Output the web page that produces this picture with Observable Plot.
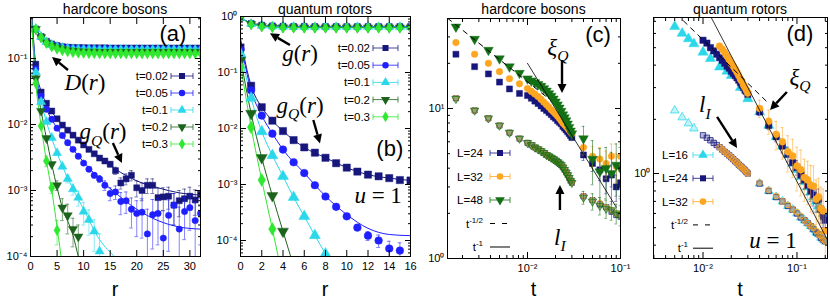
<!DOCTYPE html>
<html><head><meta charset="utf-8">
<script src="https://cdn.jsdelivr.net/npm/d3@7"></script>
<script src="https://cdn.jsdelivr.net/npm/@observablehq/plot@0.6"></script>
<style>
html,body{margin:0;padding:0;background:#fff;}
#wrap{position:relative;width:830px;height:301px;overflow:hidden;background:#fff;}
#wrap > svg{position:absolute;top:0;overflow:visible;}
</style></head><body><div id="wrap"></div>
<script>
// ================= DATA =================
// ---- (a) hardcore bosons: D(r) (upper band) and g_Q(r) (lower), vs r ----
const rA = [1,2,3,4,5,6,7,8,9,10,11,12,13,14,15,16,17,18,19,20,21,22,23,24,25,26,27,28,29,30,31,32];
const DA_t002 = [0.280,0.215,0.182,0.166,0.157,0.151,0.148,0.147,0.146,0.146,0.145,0.145,0.145,0.145,0.144,0.144,0.144,0.144,0.144,0.144,0.144,0.144,0.144,0.144,0.144,0.144,0.144,0.144,0.144,0.144,0.144,0.144];
const DA_t005 = [0.280,0.214,0.180,0.164,0.155,0.149,0.146,0.144,0.143,0.142,0.142,0.141,0.141,0.141,0.141,0.141,0.140,0.140,0.140,0.140,0.140,0.140,0.140,0.140,0.140,0.140,0.140,0.140,0.140,0.140,0.140,0.140];
const DA_t01  = [0.280,0.213,0.178,0.161,0.151,0.145,0.141,0.139,0.138,0.137,0.137,0.136,0.136,0.136,0.136,0.136,0.136,0.136,0.136,0.136,0.136,0.136,0.136,0.136,0.136,0.136,0.136,0.136,0.136,0.136,0.136,0.136];
const DA_t02  = [0.279,0.210,0.174,0.156,0.145,0.138,0.133,0.130,0.128,0.127,0.126,0.126,0.125,0.125,0.125,0.125,0.125,0.125,0.125,0.125,0.125,0.125,0.125,0.125,0.125,0.125,0.125,0.125,0.125,0.125,0.125,0.125];
const DA_t03  = [0.279,0.208,0.171,0.152,0.140,0.133,0.128,0.124,0.122,0.121,0.120,0.120,0.119,0.119,0.119,0.119,0.119,0.119,0.119,0.119,0.119,0.119,0.119,0.119,0.119,0.119,0.119,0.119,0.119,0.119,0.119,0.119];

const gQA_t002 = [0.082,0.031,0.021,0.016,0.0122,0.0098,0.0082,0.0069,0.0058,0.0049,0.0042,0.0036,0.0031,0.0028,0.0025,0.0020,0.0013,0.0015,0.0017,0.0011,0.0010,0.0012,0.0012,0.00078,0.00080,0.00082,0.00060,0.00070,0.00075,0.00082,0.00072,0.00088];
const errA_t002 = [0,0,0,0,0,0,0,0,0,0.00015,0.00015,0.00018,0.0002,0.0002,0.00022,0.00025,0.00025,0.00028,0.0003,0.0003,0.0003,0.0003,0.0003,0.0003,0.0003,0.0003,0.0003,0.0003,0.0003,0.0003,0.0003,0.0003];
const gQA_t005 = [0.070,0.027,0.017,0.012,0.0088,0.0068,0.0053,0.0042,0.0033,0.0026,0.0021,0.0017,0.0015,0.0012,0.00090,0.00095,0.00068,0.00070,0.00052,0.00045,0.00047,0.00022,0.00043,0.00045,0.00019,0.00042,0.00060,0.00026,0.00048,0.00055,0.00035,0.00045];
const errA_t005 = [0,0,0,0,0,0,0,0,0,0.0001,0.00012,0.00015,0.00018,0.0002,0.0002,0.00022,0.00025,0.00025,0.00025,0.00025,0.00028,0.0003,0.0003,0.0003,0.0003,0.0003,0.0003,0.0003,0.0003,0.0003,0.0003,0.0003];
const gQA_t01 = [0.062,0.022,0.011,0.0063,0.0037,0.0023,0.0015,0.00105,0.00078,0.00048,0.00036,0.00024,0.00012];
const errA_t01 = [0,0,0,0,0,0.0001,0.0002,0.0002,0.0002,0.00018,0.00015,0.00012,0.0001];
const gQA_t02 = [0.050,0.016,0.0062,0.0025,0.0012,0.00055,0.00042,0.00026,0.00020];
const errA_t02 = [0,0,0,0,0.0002,0.0002,0.0002,0.00012,0.0001];
const gQA_t03 = [0.042,0.0095,0.0028,0.0011,0.00025];
const errA_t03 = [0,0,0.0005,0.0002,0.0001];

const fitA_t002_r = [0.3,1,2,3,5,8,10,13,16,20,24,28,32];
const fitA_t002   = [0.40,0.075,0.032,0.021,0.0122,0.0069,0.0049,0.0031,0.0021,0.0014,0.0011,0.00092,0.00085];
const fitA_t005_r = [0.3,1,2,3,5,8,10,13,16,20,24,28,32];
const fitA_t005   = [0.35,0.066,0.027,0.017,0.0088,0.0042,0.0027,0.0015,0.00092,0.00052,0.00035,0.00028,0.00026];
const fitA_t01_r  = [0.2,1,2,3,5,8,10,13,16,18];
const fitA_t01    = [0.40,0.062,0.022,0.011,0.0037,0.00105,0.00052,0.00018,0.000095,0.00006];
const fitA_t02_r  = [0.1,1,2,3,4,6,8,9,10];
const fitA_t02    = [0.50,0.050,0.016,0.0062,0.0025,0.00055,0.00021,0.0001,0.00005];
const fitA_t03_r  = [0.1,1,2,3,4,5,6];
const fitA_t03    = [0.50,0.042,0.0095,0.0028,0.0010,0.00028,0.00007];

// ---- (b) quantum rotors: g(r) (upper) and g_Q(r) (lower), vs r ----
const rB = [0,1,2,3,4,5,6,7,8,9,10,11,12,13,14,15,16];
const gB_t002 = [0.95,0.75,0.70,0.68,0.67,0.665,0.665,0.66,0.66,0.66,0.66,0.66,0.66,0.66,0.66,0.66,0.66];
const gB_t005 = [0.95,0.75,0.70,0.68,0.67,0.665,0.665,0.66,0.66,0.66,0.66,0.66,0.66,0.66,0.66,0.66,0.66];
const gB_t01  = [0.95,0.74,0.69,0.67,0.66,0.655,0.65,0.65,0.65,0.65,0.65,0.65,0.65,0.65,0.65,0.65,0.65];
const gB_t02  = [0.95,0.73,0.67,0.65,0.64,0.64,0.635,0.635,0.635,0.635,0.635,0.635,0.635,0.635,0.635,0.635,0.635];
const gB_t03  = [0.95,0.72,0.66,0.64,0.63,0.63,0.625,0.625,0.625,0.625,0.625,0.625,0.625,0.625,0.625,0.625,0.625];
const gQB_t002 = [0.28,0.058,0.024,0.0138,0.0090,0.0062,0.0046,0.0037,0.0030,0.0024,0.0020,0.0017,0.0015,0.0014,0.0013,0.0012,0.00118];
const gQB_t005 = [0.26,0.048,0.017,0.0081,0.0042,0.0025,0.0016,0.00097,0.00061,0.00040,0.00027,0.00017,0.000122,0.00010,0.000072,0.000066];
const errB_t005 = [0,0,0,0,0,0,0,0,0,0,0.00001,0.00002,0.000022,0.000025,0.000025,0.000025];
const gQB_t01 = [0.216,0.035,0.0088,0.0033,0.0014,0.00059,0.00027,0.000123,0.000058];
const errB_t01 = [0,0,0,0,0,0,0,0.00001,0.000008];
const gQB_t02 = [0.164,0.0185,0.0030,0.00063,0.000146];
const gQB_t03 = [0.124,0.0105,0.0012,0.00016];
const fitB_t002_r = [0,1,2,3,4,6,8,10,12,14,16];
const fitB_t002   = [0.40,0.058,0.024,0.0138,0.0090,0.0046,0.0030,0.0020,0.0015,0.0013,0.00118];
const fitB_t005_r = [0,1,2,3,4,6,8,10,12,14,16];
const fitB_t005   = [0.35,0.048,0.017,0.0081,0.0042,0.0016,0.00062,0.00029,0.000165,0.000128,0.000122];
const fitB_t01_r  = [0,1,2,3,4,5,6,7,8,9];
const fitB_t01    = [0.25,0.035,0.0088,0.0033,0.0014,0.00059,0.00027,0.000123,0.000058,0.000027];
const fitB_t02_r  = [0,1,2,3,4,5];
const fitB_t02    = [0.18,0.0185,0.0030,0.00063,0.000146,0.000035];
const fitB_t03_r  = [0,1,2,3,4];
const fitB_t03    = [0.14,0.0105,0.0012,0.00016,0.00002];

// ---- (c) hardcore bosons: xi_Q (upper) and l_I (lower) vs t ----
const tC = [0.0017,0.0027,0.0038,0.005,0.0064,0.0082,
  0.010,0.011,0.012,0.013,0.014,0.015,0.016,0.017,0.018,0.019,0.020,0.021,0.022,0.023,0.024,0.025,0.026,0.027,0.028,0.029,0.030,
  0.04,0.05,0.06,0.07,0.08,0.09,0.10];
const xiC_L24 = [23,19,17,15,13.5,12.6, 12.2,11.7,11.2,10.8,10.4,10.0,9.7,9.4,9.1,8.8,8.6,8.3,8.1,7.9,7.6,7.4,7.2,7.0,6.8,6.6,6.4, 4.9,4.3,3.9,3.4,3.6,3.0,3.2];
const errC_L24 = [0,0,0,0,0,0, 0,0,0,0,0,0,0,0,0,0,0.2,0.2,0.2,0.2,0.2,0.2,0.2,0.2,0.2,0.2,0.2, 0.4,0.5,0.6,0.7,0.6,0.6,0.6];
const xiC_L32 = [27.5,23,20,17.6,15.8,14.6, 13.6,13.0,12.5,12.0,11.5,11.0,10.6,10.2,9.8,9.5,9.2,8.9,8.6,8.3,8.0,7.8,7.6,7.4,7.2,7.0,6.8, 5.5,4.8,4.6,4.3,4.8,4.1,4.8];
const errC_L32 = [0,0,0,0,0,0, 0,0,0,0,0,0,0,0,0,0,0.3,0.3,0.3,0.3,0.3,0.3,0.3,0.3,0.3,0.3,0.3, 0.6,0.8,0.9,0.9,1.0,0.9,1.0];
const xiC_L48 = [35,29,24.5,21.5,19,17.2, 15.8,15.3,14.9,14.5,14.1,13.6,13.1,12.6,12.1,11.6,11.1,10.6,10.1,9.6,9.1,8.7,8.3,7.9,7.5,7.1,6.8, 6.3,4.6,3.8,4.0,3.7,4.2,4.0];
const errC_L48 = [0,0,0,0,0,0, 0,0,0,0,0,0.3,0.3,0.4,0.4,0.5,0.5,0.5,0.6,0.6,0.6,0.6,0.6,0.6,0.6,0.6,0.6, 1.3,1.5,1.6,1.5,1.4,1.6,1.5];
const lIC_L24 = [11.7,9.7,8.6,7.7,6.9,6.3, 5.9,5.7,5.5,5.35,5.2,5.05,4.9,4.8,4.7,4.6,4.5,4.4,4.3,4.2,4.05,3.9,3.75,3.6,3.45,3.3,3.2, 2.6,2.45,2.3,2.2,2.05,1.95,1.9];
const lIC_L32 = [11.7,9.7,8.6,7.7,6.9,6.3, 5.9,5.7,5.5,5.35,5.2,5.05,4.9,4.8,4.7,4.6,4.5,4.4,4.3,4.2,4.05,3.9,3.75,3.6,3.45,3.3,3.2, 2.6,2.45,2.35,2.2,2.1,2.0,1.95];
const lIC_L48 = [11.6,9.7,8.6,7.7,6.9,6.3, 5.9,5.7,5.5,5.35,5.2,5.05,4.9,4.8,4.7,4.6,4.5,4.4,4.3,4.2,4.05,3.9,3.75,3.6,3.45,3.3,3.2, 2.55,2.4,2.25,2.15,2.1,2.0,1.95];
const errlC_L48 = [0,0,0,0,0,0, 0,0,0,0,0,0,0,0,0,0,0,0,0,0,0,0,0,0,0,0,0, 0.25,0.3,0.3,0.3,0.3,0.3,0.3];
const powHalfC_t = [0.00138,0.017], powHalfC = [40,11.6];
const powOneC_t  = [0.010,0.09],   powOneC  = [20,2.2];

// ---- (d) quantum rotors: xi_Q (upper) and l_I (lower) vs t ----
const tD_L16 = [0.005,0.006,0.007,0.008,0.010,0.012,0.015,0.018,0.020,0.025,0.030,
  0.04,0.05,0.06,0.07,0.08,0.09,0.10,0.11,0.12,0.13,0.14,0.15,0.16,0.17,0.18,0.19,0.20];
const xiD_L16 = [6.55,6.0,5.6,5.25,4.72,4.35,3.9,3.7,3.5,3.0,2.6,
  2.2,1.85,1.6,1.42,1.27,1.14,1.05,0.96,0.90,0.84,0.79,0.74,0.70,0.66,0.63,0.60,0.57];
const tD_L24 = [0.010,0.011,0.012,0.013,0.014,0.015,0.016,0.017,0.018,0.019,0.020,0.021,0.022,0.023,0.024,0.025,0.026,0.027,0.028,0.029,0.030,
  0.04,0.05,0.06,0.07,0.08,0.09,0.10,0.11,0.12,0.13,0.14,0.15,0.16,0.17,0.18,0.19,0.20];
const xiD_L24 = [5.5,5.3,5.0,4.8,4.6,4.4,4.25,4.1,3.95,3.85,3.7,3.6,3.5,3.4,3.3,3.2,3.1,3.0,2.9,2.85,2.75,
  2.2,1.85,1.6,1.42,1.28,1.15,1.08,0.98,0.92,0.86,0.80,0.76,0.71,0.72,0.63,0.58,0.55];
const errD_L24 = [0,0,0,0,0,0,0,0,0,0,0,0,0,0,0,0,0,0,0,0,0,
  0.1,0.1,0.1,0.12,0.12,0.12,0.1,0.1,0.1,0.1,0.1,0.1,0.1,0.1,0.1,0.08,0.08];
const tD_L32 = [0.015,0.016,0.017,0.018,0.019,0.020,0.021,0.022,0.023,0.024,0.025,0.026,0.027,0.028,0.029,0.030,
  0.04,0.05,0.06,0.07,0.08,0.09,0.10,0.11,0.12,0.13,0.14,0.15,0.16,0.17,0.18,0.19,0.20];
const xiD_L32 = [5.1,4.9,4.7,4.5,4.3,4.1,3.95,3.8,3.65,3.5,3.35,3.25,3.1,3.0,2.9,2.8,
  2.3,1.95,1.65,1.5,1.32,1.25,1.1,1.05,0.95,0.92,0.86,0.85,0.72,0.74,0.64,0.62,0.48];
const errD_L32 = [0.15,0.15,0.15,0.15,0.15,0.15,0.15,0.15,0.15,0.15,0.15,0.15,0.15,0.15,0.15,0.15,
  0.25,0.3,0.3,0.3,0.3,0.3,0.3,0.3,0.25,0.25,0.25,0.25,0.2,0.2,0.2,0.2,0.15];
const tDl_L16 = [0.005,0.006,0.007,0.008,
  0.04,0.05,0.06,0.07,0.08,0.09,0.10,0.11,0.12,0.13,0.14,0.15,0.16,0.17,0.18,0.19,0.20];
const lID_L16 = [2.24,2.05,1.9,1.78,
  0.88,0.80,0.74,0.70,0.66,0.63,0.60,0.57,0.55,0.53,0.51,0.49,0.47,0.46,0.44,0.43,0.42];
const lID_L24 = [1.63,1.58,1.53,1.48,1.44,1.40,1.36,1.32,1.29,1.26,1.23,1.20,1.17,1.15,1.12,1.10,1.08,1.06,1.04,1.02,1.00,
  0.88,0.80,0.74,0.70,0.66,0.63,0.60,0.57,0.55,0.53,0.51,0.49,0.47,0.46,0.44,0.43,0.42];
const lID_L32 = [1.40,1.36,1.32,1.29,1.26,1.23,1.20,1.17,1.15,1.12,1.10,1.08,1.06,1.04,1.02,1.00,
  0.89,0.81,0.75,0.70,0.67,0.63,0.61,0.58,0.55,0.53,0.51,0.50,0.48,0.46,0.45,0.43,0.42];
const powHalfD_t = [0.0052,0.05], powHalfD = [7.7,2.45];
const powOneD_t  = [0.012,0.21],  powOneD  = [7.5,0.43];

// ---- tick labels / legend labels ----
const xTicksA = [0,5,10,15,20,25,30];
const yMajorA = [1e-4,1e-3,1e-2,1e-1];
const xTicksB = [0,2,4,6,8,10,12,14,16];
const yMajorB = [1e-4,1e-3,1e-2,1e-1,1];
const xMajorC = [0.01,0.1], yMajorC = [1,10];
const xMajorD = [0.01,0.1], yMajorD = [1];
const legendT = ["t=0.02","t=0.05","t=0.1","t=0.2","t=0.3"];
const legendC = ["L=24","L=32","L=48"];
const legendD = ["L=16","L=24","L=32"];
const titles = ["hardcore bosons","quantum rotors","hardcore bosons","quantum rotors"];

// ================= STYLE / LAYOUT =================
const FONT = '"Liberation Sans", Arial, Helvetica, sans-serif';
const SERIF = '"Liberation Serif", "DejaVu Serif", "Times New Roman", serif';
const COL = {navy:"#16167c", blue:"#1f1fff", cyan:"#2ad8ea", dgreen:"#1c641c", lgreen:"#30e830", orange:"#ffa620", green:"#147014"};
const H = 301;
const P = {
  a:{left:0,   w:207, ml:30, mr:7, mt:17, mb:45, xType:"linear", xDomain:[0,32],  yDomain:[1e-4,0.418], k:1},
  b:{left:207, w:207, ml:33, mr:4, mt:16, mb:45, xType:"linear", xDomain:[0,16],  yDomain:[5.18e-5,1], k:1.2},
  c:{left:414, w:208, ml:33, mr:2, mt:18, mb:43, xType:"log",    xDomain:[0.00138,0.1], yDomain:[1,39.8], k:1},
  d:{left:622, w:208, ml:31, mr:3, mt:17, mb:43, xType:"log",    xDomain:[0.002973,0.2113], yDomain:[0.3372,7.356], k:1.05}
};
const sup = {"-":"⁻","0":"⁰","1":"¹","2":"²","3":"³","4":"⁴","5":"⁵","6":"⁶","7":"⁷","8":"⁸","9":"⁹"};
const fmtPow = v => "10" + String(Math.round(Math.log10(v))).split("").map(c => sup[c]).join("");
function logMinor(dom){const o=[];for(let e=Math.floor(Math.log10(dom[0]));e<=Math.ceil(Math.log10(dom[1]));e++)for(let k=2;k<=9;k++){const v=k*Math.pow(10,e);if(v>=dom[0]&&v<=dom[1])o.push(v);}return o;}

function pts(xs, ys, es){return ys.map((y,i)=>({x:xs[i], y, e: es ? es[i] : 0})).filter(d=>d.y!=null);}

function dotMarks(d, s, o={}) {
  const m = [];
  const de = d.filter(p => p.e > 0);
  const lo = p => (p.y - p.e > 0 ? p.y - p.e : 1e-12);
  const c1 = p => o.logx ? p.x / 1.035 : p.x - o.cap;
  const c2 = p => o.logx ? p.x * 1.035 : p.x + o.cap;
  const ec = s.color;
  if (de.length) {
    m.push(Plot.ruleX(de, {x:"x", y1:lo, y2:p=>p.y+p.e, stroke:ec, strokeOpacity:0.55, strokeWidth:1, clip:true}));
    m.push(Plot.ruleY(de, {y:p=>p.y+p.e, x1:c1, x2:c2, stroke:ec, strokeOpacity:0.55, strokeWidth:1, clip:true}));
    m.push(Plot.ruleY(de.filter(p=>p.y-p.e>0), {y:lo, x1:c1, x2:c2, stroke:ec, strokeOpacity:0.55, strokeWidth:1, clip:true}));
  }
  const rr = s.r * (o.k || 1) * (o.open ? 0.85 : 1);
  m.push(Plot.dot(d, {x:"x", y:"y", symbol:s.symbol, rotate:s.rotate||0, r:rr,
    fill:s.color, fillOpacity:o.open ? 0.3 : 1, stroke:s.color, strokeOpacity:o.open ? 0.75 : 0.45, strokeWidth:1, clip:true}));
  return m;
}
const lineMark = (xs, ys, color, extra={}) => Plot.line(pts(xs, ys), {x:"x", y:"y", stroke:color, strokeWidth:1, curve:"monotone-x", clip:true, ...extra});

function axisMarks(p, xMajor, xMinor, yMajor, xFmt) {
  const yMinor = logMinor(p.yDomain);
  const m = [
    Plot.frame({stroke:"black", strokeWidth:1}),
    Plot.axisX(xMajor, {anchor:"bottom", tickSize:-6, tickPadding:12, tickFormat:xFmt, label:null, fontSize:11}),
    Plot.axisX(xMajor, {anchor:"top", tickSize:-6, fill:"none", label:null}),
    Plot.axisY(yMajor, {anchor:"left", tickSize:-6, tickPadding:9, tickFormat:fmtPow, label:null, fontSize:11}),
    Plot.axisY(yMajor, {anchor:"right", tickSize:-6, fill:"none", label:null}),
    Plot.axisY(yMinor, {anchor:"left", tickSize:-3, fill:"none", label:null}),
    Plot.axisY(yMinor, {anchor:"right", tickSize:-3, fill:"none", label:null})
  ];
  if (xMinor) {
    m.push(Plot.axisX(xMinor, {anchor:"bottom", tickSize:-3, fill:"none", label:null}));
    m.push(Plot.axisX(xMinor, {anchor:"top", tickSize:-3, fill:"none", label:null}));
  }
  return m;
}

function makePanel(p, marks) {
  const svg = Plot.plot({
    width:p.w, height:H, marginLeft:p.ml, marginRight:p.mr, marginTop:p.mt, marginBottom:p.mb,
    x:{type:p.xType, domain:p.xDomain}, y:{type:"log", domain:p.yDomain},
    style:{fontFamily:FONT, fontSize:"11px", background:"transparent", overflow:"visible", color:"black"},
    marks
  });
  svg.style.left = p.left + "px";
  document.getElementById("wrap").appendChild(svg);
  const sx = (p.xType === "log" ? d3.scaleLog() : d3.scaleLinear()).domain(p.xDomain).range([p.ml, p.w - p.mr]);
  const sy = d3.scaleLog().domain(p.yDomain).range([H - p.mb, p.mt]);
  return {g: d3.select(svg).append("g"), sx, sy, p};
}

// ---- overlay helpers (annotations, legends, titles) ----
const SYM = {square:d3.symbolSquare, circle:d3.symbolCircle, triangle:d3.symbolTriangle, diamond:d3.symbolDiamond};
function arrow(g, x1, y1, x2, y2) {
  const a = Math.atan2(y2-y1, x2-x1), L = 9, W = 4.5;
  const bx = x2 - L*Math.cos(a), by = y2 - L*Math.sin(a);
  g.append("line").attr("x1",x1).attr("y1",y1).attr("x2",bx).attr("y2",by).attr("stroke","black").attr("stroke-width",2.4);
  g.append("path").attr("d",`M${x2},${y2}L${bx+W*Math.sin(a)},${by-W*Math.cos(a)}L${bx-W*Math.sin(a)},${by+W*Math.cos(a)}Z`).attr("fill","black");
}
function math(g, x, y, parts, size) {
  const t = g.append("text").attr("x",x).attr("y",y+size*0.33).attr("text-anchor","middle")
    .attr("font-family",SERIF).attr("font-size",size).attr("fill","black").style("white-space","pre");
  let shift = 0;
  parts.forEach(([s, st]) => {
    const sp = t.append("tspan").text(s);
    if (st.includes("i")) sp.attr("font-style","italic");
    if (st.includes("s")) { sp.attr("font-size", size*0.68).attr("dy", size*0.28 - shift); shift = size*0.28; }
    else if (shift) { sp.attr("dy", -shift); shift = 0; }
  });
}
function notes(pn, list) {
  const {g, sx, sy} = pn;
  list.forEach(n => {
    if (n.type === "arrow") arrow(g, sx(n.x1), sy(n.y1), sx(n.x2), sy(n.y2));
    else if (n.type === "panel") g.append("text").attr("x",sx(n.x)).attr("y",sy(n.y)+7.5).attr("text-anchor","middle")
      .attr("font-family",FONT).attr("font-size",22).attr("fill","black").text(n.txt);
    else math(g, sx(n.x), sy(n.y), n.parts, n.size || 23);
  });
}
function chrome(pn, title, xlabel) {
  const {g, p} = pn;
  const cx = (p.ml + p.w - p.mr) / 2;
  g.append("text").attr("x",cx).attr("y",13.5).attr("text-anchor","middle").attr("font-family",FONT).attr("font-size",14).attr("fill","black").text(title);
  g.append("text").attr("x",cx).attr("y",296).attr("text-anchor","middle").attr("font-family",FONT).attr("font-size",20).attr("fill","black").text(xlabel);
}
function legend(pn, entries, o) {
  const {g} = pn;
  entries.forEach((e, i) => {
    const y = o.y0 + i*o.dy;
    const t = g.append("text").attr("x",o.tx).attr("y",y+4).attr("text-anchor","end").attr("font-family",FONT).attr("font-size",11.5).attr("fill","black");
    t.append("tspan").text(e.label);
    if (e.sup) t.append("tspan").attr("dy",-5).attr("font-size",8).text(e.sup);
    if (e.kind === "dash") {
      g.append("line").attr("x1",o.lx1).attr("x2",o.lx2).attr("y1",y).attr("y2",y).attr("stroke","black").attr("stroke-dasharray","5,7");
    } else if (e.kind === "solid") {
      g.append("line").attr("x1",o.lx1).attr("x2",o.lx2).attr("y1",y).attr("y2",y).attr("stroke","black");
    } else {
      g.append("line").attr("x1",o.lx1).attr("x2",o.lx2).attr("y1",y).attr("y2",y).attr("stroke",e.color).attr("stroke-opacity",0.8);
      [o.lx1,o.lx2].forEach(x => g.append("line").attr("x1",x).attr("x2",x).attr("y1",y-3).attr("y2",y+3).attr("stroke",e.color).attr("stroke-opacity",0.8));
      g.append("path").attr("d", d3.symbol(SYM[e.symbol], Math.PI*e.r*e.r)())
        .attr("transform",`translate(${(o.lx1+o.lx2)/2},${y}) rotate(${e.rotate||0})`).attr("fill",e.color);
    }
  });
}

// ================= SERIES STYLES =================
const styT = [
  {color:COL.navy,   symbol:"square",   r:3.4},
  {color:COL.blue,   symbol:"circle",   r:3.2},
  {color:COL.cyan,   symbol:"triangle", r:3.4},
  {color:COL.dgreen, symbol:"triangle", r:3.4, rotate:180},
  {color:COL.lgreen, symbol:"diamond",  r:3.3}
];
const styC = [
  {color:COL.navy,   symbol:"square",   r:3.4},
  {color:COL.orange, symbol:"circle",   r:3.3},
  {color:COL.green,  symbol:"triangle", r:3.6, rotate:180}
];
const styD = [
  {color:COL.cyan,   symbol:"triangle", r:3.6},
  {color:COL.navy,   symbol:"square",   r:3.4},
  {color:COL.orange, symbol:"circle",   r:3.3}
];

// ================= PANEL (a) =================
{
  const Ds = [DA_t002, DA_t005, DA_t01, DA_t02, DA_t03];
  const gs = [gQA_t002, gQA_t005, gQA_t01, gQA_t02, gQA_t03];
  const es = [errA_t002, errA_t005, errA_t01, errA_t02, errA_t03];
  const frs = [fitA_t002_r, fitA_t005_r, fitA_t01_r, fitA_t02_r, fitA_t03_r];
  const fs = [fitA_t002, fitA_t005, fitA_t01, fitA_t02, fitA_t03];
  const k = P.a.k;
  const m = [];
  styT.forEach((s,i) => m.push(Plot.line(pts(rA, Ds[i]), {x:"x", y:"y", stroke:s.color, strokeWidth:1, clip:true})));
  styT.forEach((s,i) => m.push(...dotMarks(pts(rA, Ds[i]), s, {k})));
  styT.forEach((s,i) => m.push(lineMark(frs[i], fs[i], s.color)));
  styT.forEach((s,i) => m.push(...dotMarks(pts(rA, gs[i], es[i]), s, {cap:0.35, k})));
  m.push(...axisMarks(P.a, xTicksA, null, yMajorA, d => String(d)));
  const pn = makePanel(P.a, m);
  chrome(pn, titles[0], "r");
  notes(pn, [
    {type:"panel", x:26.9, y:0.239, txt:"(a)"},
    {type:"math", x:10.35, y:0.0433, parts:[["D","i"],["(",""],["r","i"],[")",""]]},
    {type:"arrow", x1:7.15, y1:0.0658, x2:4.14, y2:0.1035},
    {type:"math", x:13.74, y:0.0076, parts:[["g","i"],["Q","is"],["(",""],["r","i"],[")",""]]},
    {type:"arrow", x1:15.6, y1:0.00514, x2:17.3, y2:0.00256}
  ]);
  const R = P.a.w - P.a.mr;
  legend(pn, legendT.map((l,i)=>({label:l, ...styT[i]})), {tx:R-32, lx1:R-29, lx2:R-7, y0:P.a.mt+59, dy:17});
}

// ================= PANEL (b) =================
{
  const gu = [gB_t002, gB_t005, gB_t01, gB_t02, gB_t03];
  const gs = [gQB_t002, gQB_t005, gQB_t01, gQB_t02, gQB_t03];
  const es = [null, errB_t005, errB_t01, null, null];
  const frs = [fitB_t002_r, fitB_t005_r, fitB_t01_r, fitB_t02_r, fitB_t03_r];
  const fs = [fitB_t002, fitB_t005, fitB_t01, fitB_t02, fitB_t03];
  const k = P.b.k;
  const m = [];
  styT.forEach((s,i) => m.push(Plot.line(pts(rB, gu[i]), {x:"x", y:"y", stroke:s.color, strokeWidth:1, clip:true})));
  styT.forEach((s,i) => m.push(...dotMarks(pts(rB, gu[i]), s, {k:1})));
  styT.forEach((s,i) => m.push(lineMark(frs[i], fs[i], s.color)));
  styT.forEach((s,i) => m.push(...dotMarks(pts(rB, gs[i], es[i]), s, {cap:0.18, k})));
  m.push(...axisMarks(P.b, xTicksB, null, yMajorB, d => String(d)));
  const pn = makePanel(P.b, m);
  chrome(pn, titles[1], "r");
  notes(pn, [
    {type:"math", x:5.65, y:0.218, parts:[["g","i"],["(",""],["r","i"],[")",""]]},
    {type:"arrow", x1:4.7, y1:0.303, x2:2.82, y2:0.49},
    {type:"math", x:5.65, y:0.0258, parts:[["g","i"],["Q","is"],["(",""],["r","i"],[")",""]]},
    {type:"arrow", x1:6.9, y1:0.0139, x2:7.53, y2:0.0053},
    {type:"panel", x:14.1, y:0.0043, txt:"(b)"},
    {type:"math", x:13.0, y:0.00063, parts:[["u","i"],[" = 1",""]]}
  ]);
  const R = P.b.w - P.b.mr;
  legend(pn, legendT.map((l,i)=>({label:l, ...styT[i]})), {tx:R-40, lx1:R-37, lx2:R-12, y0:P.b.mt+32, dy:17.2});
}

// ================= PANEL (c) =================
{
  const xis = [xiC_L24, xiC_L32, xiC_L48];
  const xes = [errC_L24, errC_L32, errC_L48];
  const lIs = [lIC_L24, lIC_L32, lIC_L48];
  const les = [null, null, errlC_L48];
  const k = P.c.k;
  const m = [];
  styC.forEach((s,i) => m.push(...dotMarks(pts(tC, lIs[i], les[i]), s, {logx:true, open:true, k})));
  styC.forEach((s,i) => m.push(...dotMarks(pts(tC, xis[i], xes[i]), s, {logx:true, k})));
  m.push(lineMark(powHalfC_t, powHalfC, "black", {strokeDasharray:"5,5", curve:"linear"}));
  m.push(lineMark(powOneC_t, powOneC, "black", {strokeWidth:0.8, curve:"linear"}));
  m.push(...axisMarks(P.c, xMajorC, logMinor(P.c.xDomain), yMajorC, fmtPow));
  const pn = makePanel(P.c, m);
  chrome(pn, titles[2], "t");
  notes(pn, [
    {type:"panel", x:0.058, y:30.7, txt:"(c)"},
    {type:"math", x:0.0215, y:25.5, parts:[["ξ","i"],["Q","is"]]},
    {type:"arrow", x1:0.0238, y1:20.9, x2:0.0238, y2:12.6},
    {type:"arrow", x1:0.0226, y1:2.09, x2:0.0226, y2:3.07},
    {type:"math", x:0.0226, y:1.38, parts:[["l","i"],["I","is"]]}
  ]);
  const L = P.c.ml;
  legend(pn, [
    {label:legendC[0], ...styC[0]}, {label:legendC[1], ...styC[1]}, {label:legendC[2], ...styC[2]},
    {label:"t", sup:"-1/2", kind:"dash"}, {label:"t", sup:"-1", kind:"solid"}
  ], {tx:L+36, lx1:L+43, lx2:L+63, y0:P.c.mt+135, dy:23.5});
}

// ================= PANEL (d) =================
{
  const k = P.d.k;
  const m = [];
  m.push(...dotMarks(pts(tDl_L16, lID_L16), styD[0], {logx:true, open:true, k}));
  m.push(...dotMarks(pts(tD_L24, lID_L24), styD[1], {logx:true, open:true, k}));
  m.push(...dotMarks(pts(tD_L32, lID_L32), styD[2], {logx:true, open:true, k}));
  m.push(...dotMarks(pts(tD_L16, xiD_L16), styD[0], {logx:true, k}));
  m.push(...dotMarks(pts(tD_L24, xiD_L24, errD_L24), styD[1], {logx:true, k}));
  m.push(...dotMarks(pts(tD_L32, xiD_L32, errD_L32), styD[2], {logx:true, k}));
  m.push(lineMark(powHalfD_t, powHalfD, "black", {strokeDasharray:"5,5", curve:"linear"}));
  m.push(lineMark(powOneD_t, powOneD, "black", {strokeWidth:0.8, curve:"linear"}));
  m.push(...axisMarks(P.d, xMajorD, logMinor(P.d.xDomain), yMajorD, fmtPow));
  const pn = makePanel(P.d, m);
  chrome(pn, titles[3], "t");
  notes(pn, [
    {type:"panel", x:0.109, y:5.99, txt:"(d)"},
    {type:"math", x:0.109, y:3.41, parts:[["ξ","i"],["Q","is"]]},
    {type:"arrow", x1:0.079, y1:2.82, x2:0.0523, y2:2.24},
    {type:"math", x:0.0106, y:2.39, parts:[["l","i"],["I","is"]]},
    {type:"arrow", x1:0.0143, y1:2.05, x2:0.0233, y2:1.377},
    {type:"math", x:0.0562, y:0.424, parts:[["u","i"],[" = 1",""]]}
  ]);
  const L = P.d.ml;
  legend(pn, [
    {label:legendD[0], ...styD[0]}, {label:legendD[1], ...styD[1]}, {label:legendD[2], ...styD[2]},
    {label:"t", sup:"-1/2", kind:"dash"}, {label:"t", sup:"-1", kind:"solid"}
  ], {tx:L+35, lx1:L+40, lx2:L+60, y0:P.d.mt+138, dy:23.3});
}
</script></body></html>
